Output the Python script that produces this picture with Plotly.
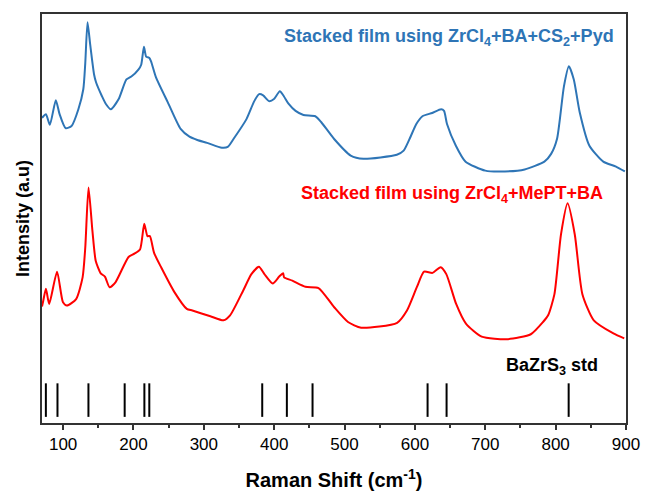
import plotly.graph_objects as go

# Blue spectrum: Stacked film using ZrCl4+BA+CS2+Pyd (offset upward)
blue_x = [70, 75.6, 81.2, 89.6, 95, 103.5, 112, 121.7, 128.7, 131.5, 134.7, 138.5, 144, 146.8, 155.2,
          160.8, 167.8, 179, 190, 197, 207, 211, 214.9, 218, 222.3, 225, 232, 248.8, 267, 279.6,
          290.7, 304.7, 325.6, 334, 342.4, 360.6, 371.7, 378.7, 384.3, 392.7, 399.7, 408, 413.7,
          420.6, 430.4, 441.6, 458.4, 466.7, 484.9, 508.7, 526.8, 574.3, 584, 592.5, 602, 610.7,
          624.6, 637.2, 641.4, 645.6, 658.2, 672, 700, 728, 756, 784, 793.6, 802, 811.8, 818.8,
          825.8, 834.2, 848, 867.7, 885.8, 898.4]
blue_y = [74.6, 75.5, 72.9, 78.9, 75.5, 72.1, 72.6, 76.7, 81.6, 88.0, 98.0, 92.5, 85.2, 83.3, 79.9,
          78.0, 76.7, 79.2, 84.0, 84.7, 86.4, 87.6, 92.0, 89.6, 89.3, 88.4, 84.5, 78.4, 71.9, 70.0,
          69.2, 68.5, 67.3, 67.5, 69.5, 74.3, 78.7, 80.4, 80.1, 78.7, 79.2, 81.1, 79.9,
          78.0, 76.3, 75.3, 75.0, 73.6, 69.5, 65.4, 64.6, 65.6, 66.6, 69.5, 73.1, 75.0,
          75.8, 76.7, 76.3, 73.1, 67.8, 63.9, 61.7, 61.5, 62.0, 63.9, 65.8, 69.5, 82.3, 87.2,
          84.0, 76.0, 67.8, 63.9, 62.7, 61.5]

# Red spectrum: Stacked film using ZrCl4+MePT+BA
red_x = [70, 71.8, 75.6, 80.2, 91.4, 99.8, 105.3, 118.5, 127.7, 131.5, 136.1, 141.7, 146.4, 153.4,
         159.4, 166, 174.4, 193, 201.3, 209.3, 215.3, 219.9, 223.3, 229.3, 239.5, 258.2, 275.8,
         283.7, 309.3, 328, 337.3, 356, 367.6, 378.3, 386.1, 397.9, 407.1, 412.7, 414.1, 425.8,
         444.4, 463, 485.3, 504.9, 523.6, 574.7, 588.7, 602.7, 613, 625, 636.5, 644.6, 658.6,
         672.5, 694.9, 732.2, 764.7, 782.1, 789.5, 798.3, 807.6, 817, 827.2, 838, 854.2, 882.1, 897.5]
red_y = [28.5, 29.9, 32.8, 29.1, 37.0, 29.5, 28.7, 30.3, 35.6, 42.9, 57.6, 46.9, 39.6, 36.6,
         35.8, 33.2, 34.4, 40.6, 41.4, 42.4, 48.7, 45.7, 45.7, 41.6, 38.0, 32.0, 27.9,
         27.5, 26.1, 25.1, 26.3, 32.4, 36.4, 38.2, 36.4, 34.1, 35.8, 36.6, 35.6, 34.8,
         33.3, 33.0, 28.3, 24.7, 23.3, 24.5, 27.5, 33.2, 37.0, 36.7, 38.1, 36.4, 29.1,
         24.3, 21.1, 20.5, 21.7, 24.7, 26.4, 31.5, 46.1, 53.7, 46.1, 31.5, 25.1, 21.9, 20.7]

# BaZrS3 standard peak positions
std_x = [75.5, 92, 136, 187.5, 215.5, 222.5, 383, 418, 454.5, 618, 645, 818.5]
std_lo, std_hi = 1.5, 9.7

x_ticks = [100, 200, 300, 400, 500, 600, 700, 800, 900]

BLUE = "#2E75B6"
RED = "#FF0000"
FONT = "Liberation Sans, Arial, sans-serif"

fig = go.Figure()
fig.add_trace(go.Scatter(x=blue_x, y=blue_y, mode="lines",
                         line=dict(color=BLUE, width=2, shape="spline", smoothing=0.6),
                         showlegend=False, hoverinfo="skip"))
fig.add_trace(go.Scatter(x=red_x, y=red_y, mode="lines",
                         line=dict(color=RED, width=2, shape="spline", smoothing=0.6),
                         showlegend=False, hoverinfo="skip"))

sx, sy = [], []
for p in std_x:
    sx += [p, p, None]
    sy += [std_lo, std_hi, None]
fig.add_trace(go.Scatter(x=sx, y=sy, mode="lines", line=dict(color="black", width=2),
                         showlegend=False, hoverinfo="skip"))

fig.add_annotation(x=411, y=94.2, xref="x", yref="y", xanchor="left", yanchor="middle",
                   text="<b>Stacked film using ZrCl<sub>4</sub>+BA+CS<sub>2</sub>+Pyd</b>",
                   showarrow=False, font=dict(family=FONT, size=18, color=BLUE))
fig.add_annotation(x=435, y=55.9, xref="x", yref="y", xanchor="left", yanchor="middle",
                   text="<b>Stacked film using ZrCl<sub>4</sub>+MePT+BA</b>",
                   showarrow=False, font=dict(family=FONT, size=18, color=RED))
fig.add_annotation(x=726, y=13.8, xref="x", yref="y", xanchor="left", yanchor="middle",
                   text="<b>BaZrS<sub>3</sub> std</b>",
                   showarrow=False, font=dict(family=FONT, size=18, color="black"))

fig.update_layout(
    width=652, height=500,
    margin=dict(l=42, r=16, t=14, b=73),
    paper_bgcolor="white", plot_bgcolor="white",
    font=dict(family=FONT, color="black"),
    showlegend=False,
)
fig.update_xaxes(
    range=[70, 900], tickmode="array", tickvals=x_ticks,
    ticks="outside", ticklen=5, tickwidth=1.5, tickcolor="#333",
    minor=dict(ticks="outside", ticklen=3, tickwidth=1.5, tickcolor="#333", dtick=50, tick0=0),
    showline=True, linecolor="#333", linewidth=1.5, mirror=True,
    showgrid=False, zeroline=False,
    tickfont=dict(family=FONT, size=17, color="black"),
    title=dict(text="<b>Raman Shift (cm<sup>-1</sup>)</b>", font=dict(family=FONT, size=20, color="black"),
               standoff=20),
)
fig.update_yaxes(
    range=[0, 100], showticklabels=False, ticks="",
    showline=True, linecolor="#333", linewidth=1.5, mirror=True,
    showgrid=False, zeroline=False,
    title=dict(text="<b>Intensity (a.u)</b>", font=dict(family=FONT, size=18, color="black"),
               standoff=6),
)

fig.write_html("out.html")
